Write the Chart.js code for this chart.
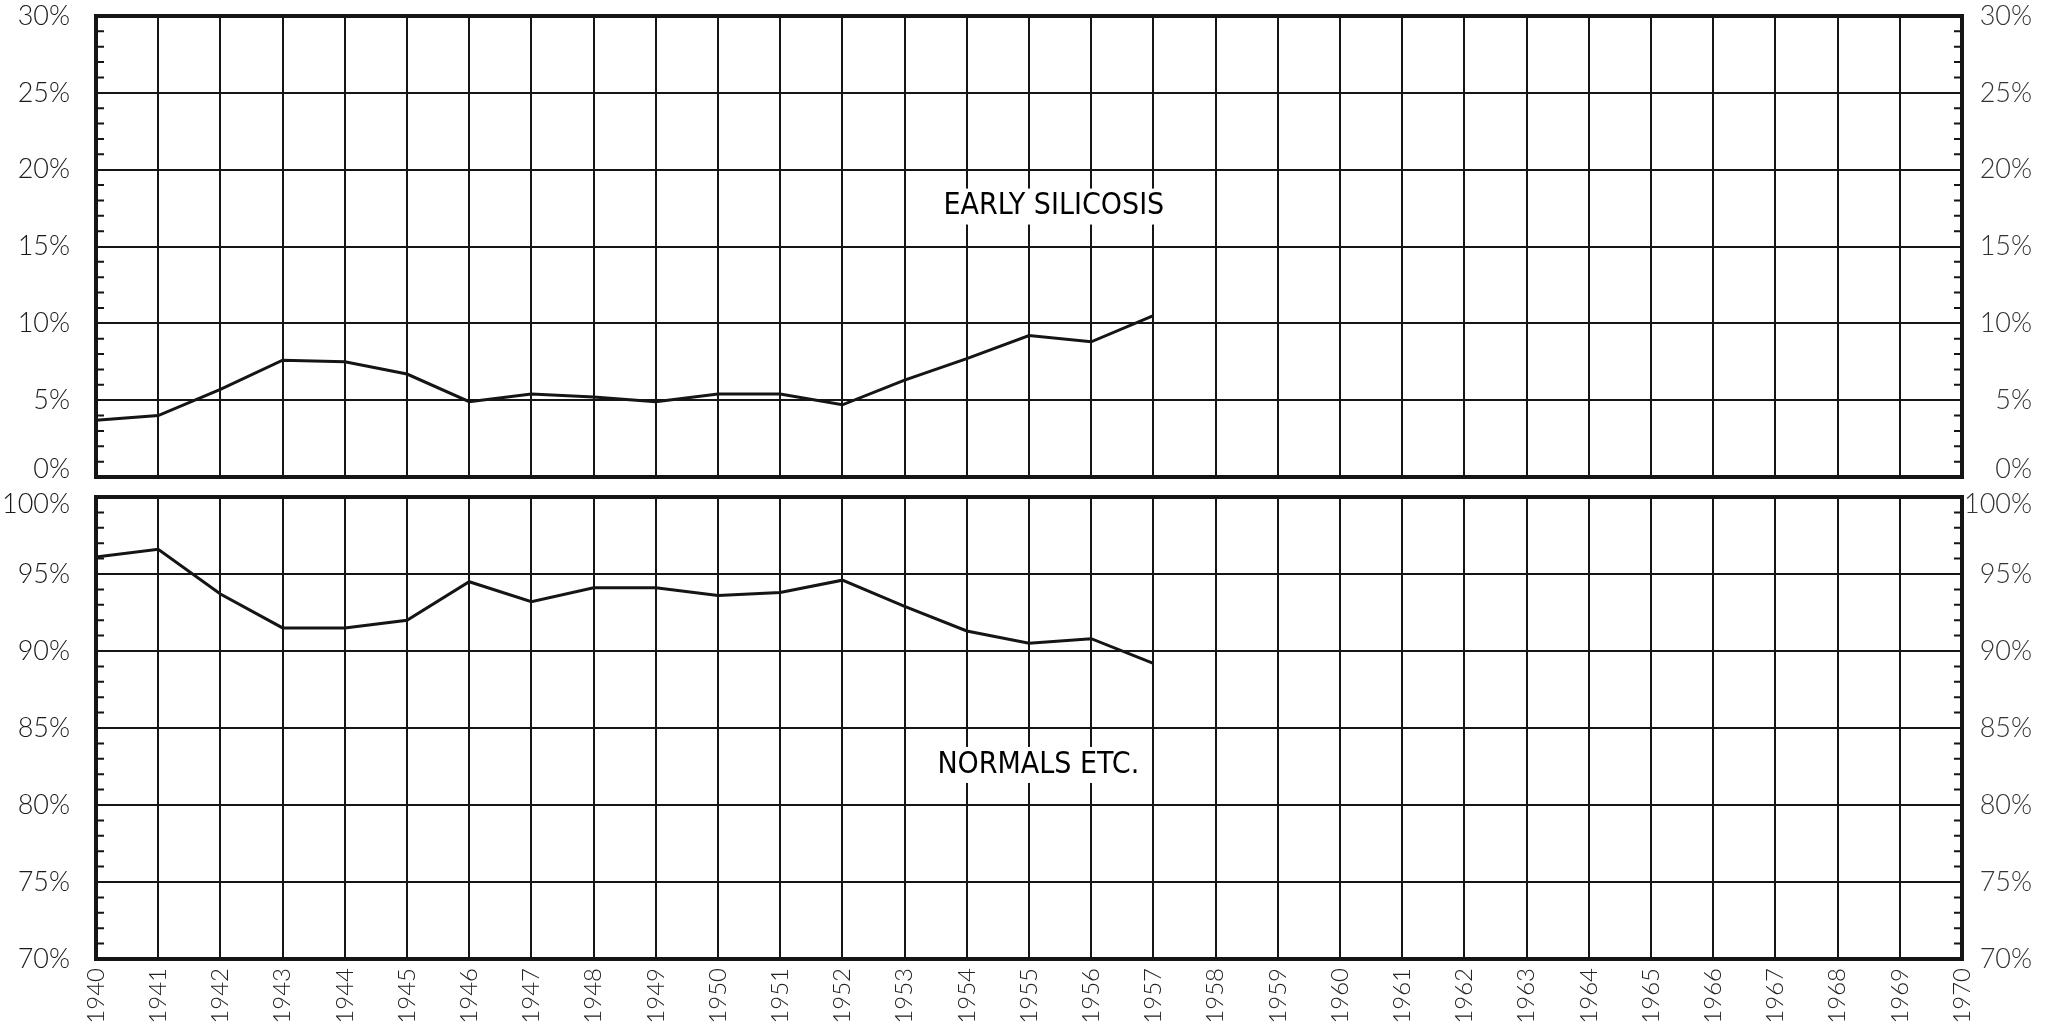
<!DOCTYPE html>
<html>
<head>
<meta charset="utf-8">
<script src="https://cdn.jsdelivr.net/npm/chart.js@4.4.1/dist/chart.umd.min.js"></script>
<style>
  html, body { margin: 0; padding: 0; background: #fff; }
  body { width: 2051px; height: 1032px; position: relative; overflow: hidden; }
  canvas { position: absolute; left: 0; }
  #topChart { top: 0; }
  #bottomChart { top: 470px; }
</style>
</head>
<body>
<canvas id="topChart" width="2051" height="500"></canvas>
<canvas id="bottomChart" width="2051" height="562"></canvas>
<script>
// Chart Data
var years = ['1940', '1941', '1942', '1943', '1944', '1945', '1946', '1947', '1948', '1949',
             '1950', '1951', '1952', '1953', '1954', '1955', '1956', '1957', '1958', '1959',
             '1960', '1961', '1962', '1963', '1964', '1965', '1966', '1967', '1968', '1969', '1970'];

// percent of cases, 1940 - 1957
var earlySilicosis = [3.7, 4.0, 5.7, 7.6, 7.5, 6.7, 4.9, 5.4, 5.2, 4.9, 5.4, 5.4, 4.7, 6.3, 7.7, 9.2, 8.8, 10.5];
var normals = [96.1, 96.6, 93.7, 91.5, 91.5, 92.0, 94.5, 93.2, 94.1, 94.1, 93.6, 93.8, 94.6, 92.9, 91.3, 90.5, 90.8, 89.2];

var ink = '#151515';
var fontFamily = 'Lato, "Open Sans", sans-serif';
var noteFont = '30px "DejaVu Sans Condensed", "Liberation Sans Narrow", "Noto Sans", sans-serif';

// frame, small 1% ticks on both borders, and the series caption
var framePlugin = {
    id: 'frame',
    afterDraw: function(chart, args, opts) {
        var ctx = chart.ctx;
        var a = chart.chartArea;
        var y = chart.scales.y;
        var x = chart.scales.x;
        ctx.save();
        ctx.strokeStyle = ink;
        ctx.lineWidth = 2;
        ctx.beginPath();
        for (var v = y.min + 1; v < y.max; v++) {
            if (v % 5 === 0) continue;
            var py = y.getPixelForValue(v);
            ctx.moveTo(a.left, py); ctx.lineTo(a.left + 8, py);
            ctx.moveTo(a.right, py); ctx.lineTo(a.right - 8, py);
        }
        ctx.stroke();
        ctx.lineWidth = 4;
        ctx.strokeRect(a.left, a.top, a.right - a.left, a.bottom - a.top);

        // caption with a white box behind it
        ctx.font = noteFont;
        ctx.textAlign = 'center';
        ctx.textBaseline = 'middle';
        var cx = x.getPixelForValue(opts.year - 1940);
        var cy = y.getPixelForValue(opts.value);
        var w = ctx.measureText(opts.text).width;
        ctx.fillStyle = '#fff';
        ctx.fillRect(cx - w / 2 - 8, cy - 18, w + 16, 36);
        ctx.fillStyle = '#000';
        ctx.fillText(opts.text, cx, cy);
        ctx.restore();
    }
};

function noEdgePadding(axis) {
    axis.paddingTop = 0;
    axis.paddingBottom = 0;
    axis.paddingLeft = 0;
    axis.paddingRight = 0;
}

// the label at the joint of the two panels is nudged inwards, as in the drawing
function percentTicks(nudgeUp, nudgeDown) {
    return function(v) {
        var t = v + '%';
        if (v === nudgeUp) return [t, ''];
        if (v === nudgeDown) return ['', t];
        return t;
    };
}

function tickFont(nudged) {
    return function(c) {
        var v = c.tick ? c.tick.value : null;
        return { family: fontFamily, size: 27, weight: '300', lineHeight: nudged.indexOf(v) >= 0 ? 0.55 : 1.2 };
    };
}

function makeChart(id, data, min, max, caption, showYears) {
    var ctx = document.getElementById(id).getContext('2d');
    var nudgeUp = showYears ? null : min;
    var nudgeDown = showYears ? max : null;
    var nudged = [nudgeUp, nudgeDown];
    return new Chart(ctx, {
        type: 'line',
        data: {
            labels: years,
            datasets: [{
                data: data,
                borderColor: ink,
                borderWidth: 3,
                pointRadius: 0,
                fill: false,
                tension: 0,
                yAxisID: 'y'
            }]
        },
        options: {
            responsive: false,
            animation: false,
            devicePixelRatio: 1,
            layout: {
                padding: showYears ? { top: 27, bottom: 0, left: 0, right: 19 }
                                   : { top: 16, bottom: 23, left: 0, right: 19 }
            },
            plugins: {
                legend: { display: false },
                tooltip: { enabled: false },
                frame: caption
            },
            scales: {
                x: {
                    type: 'category',
                    offset: false,
                    grid: { color: ink, lineWidth: 2, drawTicks: false },
                    border: { display: false },
                    ticks: {
                        display: showYears,
                        autoSkip: false,
                        maxRotation: 90,
                        minRotation: 90,
                        padding: 9,
                        color: '#222',
                        font: { family: fontFamily, size: 24, weight: '300' }
                    },
                    afterFit: function(axis) {
                        axis.height = showYears ? 73 : 0;
                        noEdgePadding(axis);
                    }
                },
                y: {
                    position: 'left',
                    min: min,
                    max: max,
                    grid: { color: ink, lineWidth: 2, drawTicks: false },
                    border: { display: false },
                    ticks: {
                        stepSize: 5,
                        padding: 26,
                        color: '#1a1a1a',
                        font: tickFont(nudged),
                        callback: percentTicks(nudgeUp, nudgeDown)
                    },
                    afterFit: function(axis) {
                        axis.width = 96;
                        noEdgePadding(axis);
                    }
                },
                yR: {
                    position: 'right',
                    min: min,
                    max: max,
                    grid: { display: false, drawTicks: false },
                    border: { display: false },
                    ticks: {
                        stepSize: 5,
                        padding: 20,
                        crossAlign: 'far',
                        color: '#333',
                        font: tickFont(nudged),
                        callback: percentTicks(nudgeUp, nudgeDown)
                    },
                    afterFit: function(axis) {
                        axis.width = 70;
                        noEdgePadding(axis);
                    }
                }
            }
        },
        plugins: [framePlugin]
    });
}

var topChart = makeChart('topChart', earlySilicosis, 0, 30,
    { text: 'EARLY SILICOSIS', year: 1955.4, value: 17.6 }, false);
var bottomChart = makeChart('bottomChart', normals, 70, 100,
    { text: 'NORMALS ETC.', year: 1955.15, value: 82.6 }, true);
</script>
</body>
</html>
